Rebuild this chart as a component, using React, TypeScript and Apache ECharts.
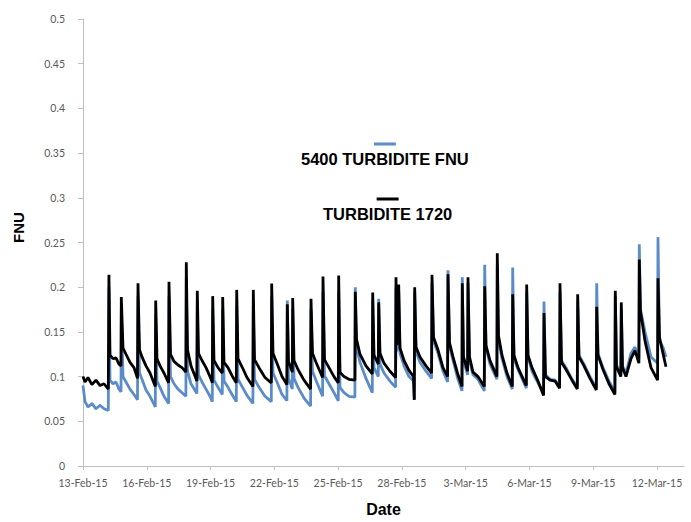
import React, { useEffect, useRef } from "react";
import * as echarts from "echarts";

// Days since 13-Feb-15 (shared sample times of both sensors)
const dayOffsets: number[] = [
  0, 0.094, 0.235, 0.42, 0.61, 0.8, 0.99, 1.19,
  1.22, 1.27, 1.411, 1.552, 1.693, 1.788,
  1.802, 1.882, 2.023, 2.211, 2.399, 2.564,
  2.587, 2.658, 2.775, 2.963, 3.152, 3.401,
  3.42, 3.481, 3.622, 3.81, 4.027,
  4.045, 4.116, 4.281, 4.469, 4.657, 4.84,
  4.859, 4.916, 5.08, 5.358,
  5.376, 5.433, 5.598, 5.786, 5.974, 6.082,
  6.101, 6.162, 6.35, 6.553,
  6.571, 6.632, 6.821, 7.009, 7.211,
  7.23, 7.291, 7.479, 7.714, 7.992,
  8.011, 8.067, 8.279, 8.561, 8.857,
  8.876, 8.937, 9.125, 9.361, 9.591,
  9.61, 9.666, 9.845,
  9.864, 9.925, 10.113, 10.395, 10.706,
  10.724, 10.795, 10.96, 11.27,
  11.289, 11.359, 11.571, 11.806, 12.009,
  12.027, 12.088, 12.277, 12.512, 12.79,
  12.808, 12.865, 13.029, 13.311, 13.608,
  13.627, 13.688, 13.89,
  13.909, 13.97, 14.158, 14.44, 14.704,
  14.722, 14.769,
  14.85, 14.911, 15.099, 15.334, 15.546, 15.584,
  15.602, 15.663, 15.851, 16.134, 16.397,
  16.416, 16.487, 16.698, 16.933, 17.15,
  17.168, 17.239, 17.404, 17.639, 17.827,
  17.841, 17.898, 18.091,
  18.109, 18.18, 18.344, 18.579, 18.876,
  18.895, 18.956, 19.144, 19.469,
  19.487, 19.544, 19.709, 19.944, 20.193,
  20.212, 20.273, 20.461, 20.852,
  20.87, 20.932, 21.12, 21.402, 21.665,
  21.684, 21.755, 21.967, 22.202, 22.418,
  22.437, 22.507, 22.719, 23.001, 23.251,
  23.269, 23.33, 23.565, 23.848, 24.144,
  24.163, 24.224, 24.459, 24.741, 25.019,
  25.038, 25.094, 25.301,
  25.32, 25.377, 25.541, 25.776, 25.964, 26.148,
  26.167, 26.223, 26.435, 26.717, 27.027,
  27.046, 27.117, 27.281, 27.422,
];

// 5400 TURBIDITE FNU (blue)
const turbidite5400: number[] = [
  0.09, 0.072, 0.066, 0.07, 0.064, 0.068, 0.064, 0.062,
  0.2, 0.096, 0.092, 0.094, 0.086, 0.083,
  0.175, 0.1, 0.094, 0.086, 0.08, 0.074,
  0.19, 0.104, 0.097, 0.085, 0.078, 0.066,
  0.17, 0.095, 0.088, 0.078, 0.07,
  0.19, 0.1, 0.092, 0.086, 0.082, 0.078,
  0.21, 0.106, 0.092, 0.081,
  0.18, 0.102, 0.094, 0.086, 0.078, 0.072,
  0.175, 0.096, 0.088, 0.08,
  0.175, 0.095, 0.088, 0.08, 0.072,
  0.18, 0.097, 0.089, 0.079, 0.07,
  0.18, 0.097, 0.088, 0.078, 0.072,
  0.19, 0.104, 0.094, 0.08, 0.073,
  0.185, 0.098, 0.086,
  0.175, 0.098, 0.088, 0.076, 0.067,
  0.175, 0.106, 0.096, 0.078,
  0.195, 0.101, 0.092, 0.082, 0.073,
  0.195, 0.088, 0.082, 0.078, 0.077,
  0.2, 0.133, 0.116, 0.098, 0.082,
  0.185, 0.11, 0.1,
  0.187, 0.114, 0.104, 0.095, 0.088,
  0.2, 0.128,
  0.195, 0.126, 0.112, 0.1, 0.095, 0.074,
  0.195, 0.128, 0.116, 0.106, 0.098,
  0.205, 0.14, 0.126, 0.106, 0.094,
  0.219, 0.134, 0.118, 0.097, 0.084,
  0.211, 0.118, 0.102,
  0.205, 0.118, 0.102, 0.097, 0.084,
  0.225, 0.132, 0.114, 0.097,
  0.225, 0.142, 0.12, 0.1, 0.086,
  0.222, 0.12, 0.108, 0.087,
  0.195, 0.122, 0.106, 0.093, 0.081,
  0.184, 0.102, 0.097, 0.096, 0.089,
  0.195, 0.118, 0.11, 0.097, 0.088,
  0.185, 0.124, 0.114, 0.1, 0.087,
  0.2045, 0.126, 0.11, 0.095, 0.083,
  0.19, 0.113, 0.104,
  0.175, 0.112, 0.104, 0.126, 0.133, 0.12,
  0.248, 0.175, 0.15, 0.122, 0.115,
  0.256, 0.14, 0.133, 0.122,
];

// TURBIDITE 1720 (black)
const turbidite1720: number[] = [
  0.1, 0.094, 0.099, 0.091, 0.096, 0.09, 0.092, 0.086,
  0.214, 0.124, 0.12, 0.121, 0.114, 0.112,
  0.189, 0.132, 0.125, 0.116, 0.11, 0.098,
  0.2045, 0.13, 0.122, 0.112, 0.104, 0.089,
  0.185, 0.12, 0.112, 0.104, 0.093,
  0.206, 0.125, 0.117, 0.113, 0.11, 0.105,
  0.228, 0.13, 0.112, 0.095,
  0.196, 0.126, 0.118, 0.11, 0.1, 0.093,
  0.19, 0.118, 0.11, 0.104,
  0.189, 0.116, 0.11, 0.101, 0.093,
  0.197, 0.12, 0.111, 0.099, 0.089,
  0.197, 0.119, 0.11, 0.099, 0.093,
  0.204, 0.126, 0.115, 0.1, 0.091,
  0.181, 0.117, 0.105,
  0.188, 0.118, 0.108, 0.096, 0.086,
  0.187, 0.126, 0.116, 0.099,
  0.212, 0.119, 0.11, 0.1, 0.093,
  0.213, 0.105, 0.1, 0.097, 0.096,
  0.195, 0.142, 0.125, 0.112, 0.103,
  0.194, 0.124, 0.114,
  0.183, 0.126, 0.115, 0.106, 0.099,
  0.211, 0.135,
  0.203, 0.132, 0.118, 0.107, 0.1, 0.074,
  0.2, 0.133, 0.122, 0.112, 0.104,
  0.214, 0.144, 0.13, 0.11, 0.1,
  0.2145, 0.138, 0.122, 0.102, 0.089,
  0.2045, 0.122, 0.106,
  0.211, 0.122, 0.105, 0.1, 0.089,
  0.201, 0.135, 0.118, 0.1,
  0.238, 0.146, 0.124, 0.104, 0.089,
  0.192, 0.124, 0.11, 0.09,
  0.203, 0.124, 0.11, 0.095, 0.079,
  0.171, 0.1, 0.096, 0.095, 0.087,
  0.2045, 0.116, 0.108, 0.096, 0.086,
  0.192, 0.122, 0.112, 0.098, 0.085,
  0.178, 0.124, 0.108, 0.092, 0.08,
  0.196, 0.111, 0.1,
  0.183, 0.11, 0.1, 0.12, 0.129, 0.115,
  0.231, 0.173, 0.14, 0.11, 0.096,
  0.21, 0.144, 0.126, 0.111,
];

const xTickLabels: string[] = [
  "13-Feb-15", "16-Feb-15", "19-Feb-15", "22-Feb-15", "25-Feb-15",
  "28-Feb-15", "3-Mar-15", "6-Mar-15", "9-Mar-15", "12-Mar-15",
];

const seriesNames = ["5400 TURBIDITE FNU", "TURBIDITE 1720"];
const seriesColors = ["#5b8cc8", "#000000"];

const labelFont = "Lato, 'Liberation Sans', sans-serif";
const boldFont = "'Liberation Sans', Arial, sans-serif";

export default function App() {
  const ref = useRef<HTMLDivElement>(null);

  useEffect(() => {
    document.body.style.margin = "0";
    if (!ref.current) return;
    const chart = echarts.init(ref.current, undefined, { renderer: "svg" });

    const blueData = dayOffsets.map((d, i) => [d, turbidite5400[i]]);
    const blackData = dayOffsets.map((d, i) => [d, turbidite1720[i]]);

    const legendItem = (name: string, color: string, left: number, top: number) => ({
      data: [name],
      left,
      top,
      icon: "none",
      itemWidth: 0,
      itemHeight: 0,
      selectedMode: false,
      formatter: (n: string) => `{ln|}\n{t|${n}}`,
      textStyle: {
        rich: {
          ln: { width: 22, height: 3, backgroundColor: color, align: "center", lineHeight: 10 },
          t: {
            fontSize: 16.5,
            fontWeight: "bold",
            fontFamily: boldFont,
            color: "#000",
            align: "center",
            lineHeight: 20,
          },
        },
      },
    });

    chart.setOption({
      animation: false,
      backgroundColor: "#ffffff",
      grid: { left: 83, right: 7, top: 19, bottom: 50, containLabel: false },
      legend: [
        legendItem(seriesNames[0], seriesColors[0], 291, 133),
        legendItem(seriesNames[1], seriesColors[1], 313, 188),
      ],
      xAxis: {
        type: "value",
        min: 0,
        max: 28.27,
        interval: 3,
        name: "Date",
        nameLocation: "middle",
        nameGap: 35,
        nameTextStyle: { fontFamily: boldFont, fontWeight: "bold", fontSize: 16, color: "#000" },
        axisLine: { show: true, lineStyle: { color: "#bfbfbf", width: 1 } },
        axisTick: { show: true, length: 4, lineStyle: { color: "#bfbfbf" } },
        splitLine: { show: false },
        axisLabel: {
          showMaxLabel: false,
          margin: 11,
          fontFamily: labelFont,
          fontSize: 10.5,
          color: "#595959",
          formatter: (v: number) => {
            const k = Math.round(v);
            if (Math.abs(v - k) > 1e-6 || k % 3 !== 0) return "";
            return xTickLabels[k / 3] ?? "";
          },
        },
      },
      yAxis: {
        type: "value",
        min: 0,
        max: 0.5,
        interval: 0.05,
        name: "FNU",
        nameLocation: "middle",
        nameGap: 57,
        nameTextStyle: {
          fontFamily: boldFont,
          fontWeight: "bold",
          fontSize: 15,
          color: "#000",
          padding: [0, 0, 0, 30],
        },
        axisLine: { show: true, lineStyle: { color: "#bfbfbf", width: 1 } },
        axisTick: { show: true, length: 5, lineStyle: { color: "#bfbfbf" } },
        splitLine: { show: false },
        axisLabel: {
          margin: 18,
          fontFamily: labelFont,
          fontSize: 10.5,
          color: "#595959",
          formatter: (v: number) => String(+v.toFixed(2)),
        },
      },
      series: [
        {
          name: seriesNames[0],
          type: "line",
          data: blueData,
          showSymbol: false,
          symbol: "none",
          lineStyle: { color: seriesColors[0], width: 2.8 },
          itemStyle: { color: seriesColors[0] },
          z: 2,
        },
        {
          name: seriesNames[1],
          type: "line",
          data: blackData,
          showSymbol: false,
          symbol: "none",
          lineStyle: { color: seriesColors[1], width: 2.8 },
          itemStyle: { color: seriesColors[1] },
          z: 3,
        },
      ],
    });

    return () => chart.dispose();
  }, []);

  return <div ref={ref} style={{ width: 691, height: 522 }} />;
}
